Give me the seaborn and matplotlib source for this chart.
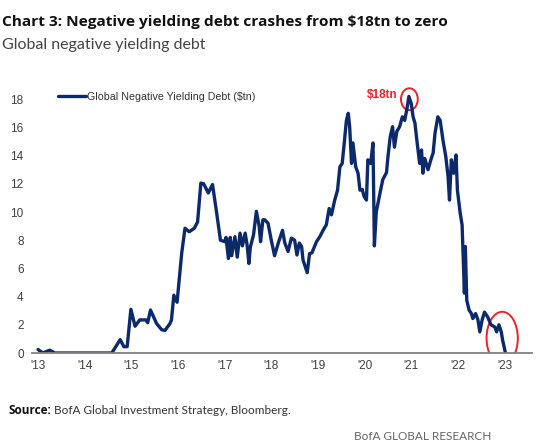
import seaborn as sns
import matplotlib.pyplot as plt
import pandas as pd
from matplotlib.patches import Ellipse

# Deuda global con rendimiento negativo ($tn)
fechas = [2013.00, 2013.10, 2013.25, 2013.36, 2014.58, 2014.76, 2014.84, 2014.91, 2014.99,
          2015.08, 2015.18, 2015.31, 2015.35, 2015.41, 2015.54, 2015.65, 2015.72, 2015.83,
          2015.86, 2015.91, 2015.98, 2016.08, 2016.15, 2016.24, 2016.35, 2016.42, 2016.49,
          2016.55, 2016.65, 2016.74, 2016.83, 2016.91, 2017.00, 2017.03, 2017.08, 2017.12,
          2017.15, 2017.22, 2017.27, 2017.33, 2017.38, 2017.44, 2017.48, 2017.52, 2017.55,
          2017.62, 2017.68, 2017.74, 2017.77, 2017.82, 2017.86, 2017.93, 2018.00, 2018.07,
          2018.15, 2018.24, 2018.29, 2018.36, 2018.43, 2018.50, 2018.55, 2018.60, 2018.65,
          2018.68, 2018.77, 2018.82, 2018.87, 2018.97, 2019.04, 2019.11, 2019.18, 2019.24,
          2019.29, 2019.36, 2019.42, 2019.47, 2019.52, 2019.57, 2019.61, 2019.65, 2019.68,
          2019.72, 2019.75, 2019.81, 2019.86, 2019.90, 2019.95, 2019.99, 2020.04, 2020.07,
          2020.13, 2020.18, 2020.21, 2020.25, 2020.30, 2020.34, 2020.39, 2020.47, 2020.50,
          2020.55, 2020.60, 2020.64, 2020.69, 2020.75, 2020.81, 2020.86, 2020.91, 2020.95,
          2021.00, 2021.04, 2021.08, 2021.12, 2021.18, 2021.22, 2021.25, 2021.29, 2021.36,
          2021.42, 2021.47, 2021.51, 2021.57, 2021.62, 2021.68, 2021.74, 2021.79, 2021.82,
          2021.86, 2021.91, 2021.96, 2021.99, 2022.05, 2022.09, 2022.12, 2022.14, 2022.16,
          2022.19, 2022.24, 2022.29, 2022.32, 2022.38, 2022.43, 2022.47, 2022.52, 2022.57,
          2022.64, 2022.71, 2022.79, 2022.83, 2022.88, 2022.93, 2022.96, 2023.02]
deuda = [0.25, 0.0, 0.2, 0.0, 0.0, 0.95, 0.45, 0.45, 3.1,
         1.9, 2.35, 2.35, 2.15, 3.05, 2.1, 1.65, 1.6, 2.1,
         2.35, 4.1, 3.6, 7.1, 8.85, 8.6, 8.85, 9.3, 12.05,
         12.0, 11.35, 11.95, 9.9, 8.0, 7.9, 8.2, 6.7, 8.2,
         6.9, 8.25, 6.8, 8.5, 7.6, 8.5, 7.7, 6.35, 7.5,
         8.4, 10.05, 9.0, 7.9, 9.45, 9.45, 9.2, 8.0, 6.9,
         7.8, 8.7, 7.8, 7.2, 8.15, 8.0, 6.95, 7.8, 7.55,
         6.6, 5.7, 7.05, 7.1, 7.9, 8.25, 8.7, 9.1, 10.25,
         9.8, 10.85, 11.55, 13.2, 13.45, 15.1, 16.5, 17.0, 16.05,
         13.45, 14.9, 13.2, 12.75, 11.55, 11.6, 11.1, 10.85, 13.7,
         13.45, 14.9, 7.6, 10.0, 10.85, 11.5, 12.3, 12.8, 13.9,
         15.35, 16.05, 14.6, 15.7, 16.05, 16.75, 16.5, 17.35, 18.2,
         17.7, 16.75, 16.3, 15.1, 13.45, 14.4, 12.75, 13.8, 13.0,
         13.7, 14.2, 15.6, 16.75, 16.5, 15.1, 13.95, 12.5, 10.85,
         13.7, 12.75, 14.05, 11.55, 9.9, 9.1, 6.1, 4.25, 7.55,
         3.75, 3.05, 2.8, 2.45, 2.8, 2.35, 1.5, 2.35, 2.9,
         2.55, 2.0, 1.85, 1.5, 2.0, 1.5, 0.9, 0.0]

anios = list(range(2013, 2024))
etiquetas_x = ["'13", "'14", "'15", "'16", "'17", "'18", "'19", "'20", "'21", "'22", "'23"]
etiquetas_y = [0, 2, 4, 6, 8, 10, 12, 14, 16, 18]

df = pd.DataFrame({"fecha": fechas, "deuda": deuda})

sns.set_theme(style="white")
plt.rcParams['font.family'] = ['Liberation Sans', 'DejaVu Sans']

fig = plt.figure(figsize=(5.46, 4.48), dpi=100)
ax = fig.add_axes([0.0586, 0.212, 0.915, 0.598])

azul = "#0c2a6b"
sns.lineplot(data=df, x="fecha", y="deuda", ax=ax, color=azul, linewidth=2.4,
             label="Global Negative Yielding Debt ($tn)")

ax.set_xlim(2012.87, 2023.58)
ax.set_ylim(0, 19)
ax.set_xticks(anios)
ax.set_xticklabels(etiquetas_x)
ax.set_yticks(etiquetas_y)
ax.set_yticklabels([str(v) for v in etiquetas_y])
ax.tick_params(axis="both", length=0, labelsize=8.5, labelcolor="#404040")
ax.tick_params(axis="y", pad=6)
ax.tick_params(axis="x", pad=5)
ax.set_xlabel("")
ax.set_ylabel("")
for lado in ["left", "right", "top"]:
    ax.spines[lado].set_visible(False)
ax.spines["bottom"].set_color("#808080")
ax.spines["bottom"].set_linewidth(1.3)

leg = ax.legend(loc="upper left", bbox_to_anchor=(0.04, 1.0), frameon=False,
                fontsize=7.7, handlelength=2.6, handletextpad=0.1, borderaxespad=0.2)
for t in leg.get_texts():
    t.set_color("#333333")

# Anotaciones en rojo
ax.add_patch(Ellipse((2020.96, 18.0), 0.36, 1.55, fill=False, edgecolor="#e8232a", linewidth=1.4))
ax.add_patch(Ellipse((2022.95, 1.05), 0.67, 3.75, fill=False, edgecolor="#e8232a", linewidth=1.4))
ax.text(2020.7, 18.3, "$18tn", color="#e8232a", fontsize=8.5, fontweight="bold", ha="right", va="center")

fig.text(0.004, 0.952, "Chart 3: Negative yielding debt crashes from $18tn to zero",
         fontsize=11.1, fontweight="bold", family=["Open Sans", "DejaVu Sans"], color="#111111",
         va="center", ha="left")
fig.text(0.004, 0.9, "Global negative yielding debt", fontsize=11.5,
         family=["Lato", "DejaVu Sans"], color="#444444", va="center", ha="left")
fig.text(0.016, 0.083, "Source:", fontsize=8.5, fontweight="bold",
         family=["Open Sans", "DejaVu Sans"], color="#111111", va="center", ha="left")
fig.text(0.098, 0.083, "BofA Global Investment Strategy, Bloomberg.", fontsize=8.5,
         family=["Lato", "DejaVu Sans"], color="#333333", va="center", ha="left")
fig.text(0.90, 0.026, "BofA GLOBAL RESEARCH", fontsize=8.5,
         family=["Lato", "DejaVu Sans"], color="#666666", va="center", ha="right")

plt.savefig("out.png", dpi=100)
